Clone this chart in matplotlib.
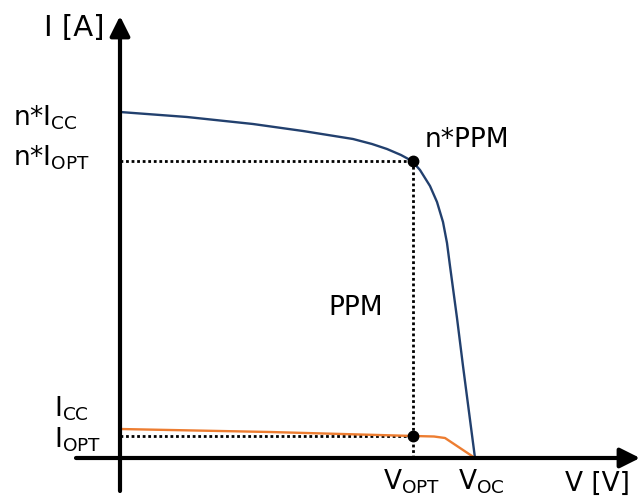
import matplotlib
matplotlib.use("Agg")
import matplotlib.pyplot as plt

plt.rcParams['font.family'] = ['DejaVu Sans']
plt.rcParams['mathtext.fontset'] = 'dejavusans'

# I-V curves (arbitrary units, origin at the axes crossing)
v_array = [0, 67, 133, 183, 233, 252, 267, 281, 292, 300, 310, 317, 323, 327, 330, 337, 343, 355]
i_array = [346, 341, 334, 327, 319, 314, 309, 303, 297, 288, 272, 256, 236, 215, 192, 140, 92, 0]

v_cell = [0, 150, 294, 314, 325, 355]
i_cell = [29, 26, 22, 21.5, 20, 0]

v_opt = 293
i_opt_array = 297
i_opt_cell = 22

blue = '#22406e'
orange = '#ed7d31'

fig = plt.figure(figsize=(6.41, 5.02), dpi=100)
ax = fig.add_axes([0, 0, 1, 1])
ax.set_xlim(-120, 521)
ax.set_ylim(-43, 459)
ax.axis('off')

# axes with arrows
arrow = dict(arrowstyle='-|>', lw=3, color='black', mutation_scale=30, shrinkA=0, shrinkB=0)
ax.annotate('', xy=(520, 0), xytext=(-44, 0), arrowprops=arrow)
ax.annotate('', xy=(0, 442), xytext=(0, -33), arrowprops=arrow)

# dotted guides
dot = dict(color='black', lw=2, linestyle=(0, (1, 1)))
ax.plot([0, v_opt], [i_opt_array, i_opt_array], **dot)
ax.plot([v_opt, v_opt], [0, i_opt_array], **dot)
ax.plot([0, v_opt], [i_opt_cell, i_opt_cell], **dot)

# curves
ax.plot(v_array, i_array, color=blue, lw=1.7, solid_joinstyle='round')
ax.plot(v_cell, i_cell, color=orange, lw=1.7, solid_joinstyle='round')

ax.plot([v_opt, v_opt], [i_opt_array, i_opt_cell], 'o', color='black', ms=7.5)

fs = 19
ax.text(-15, 423, 'I [A]', fontsize=21, ha='right', va='baseline')
ax.text(-107, 334, r'n*I$_{\mathrm{CC}}$', fontsize=fs, va='baseline')
ax.text(-107, 294, r'n*I$_{\mathrm{OPT}}$', fontsize=fs, va='baseline')
ax.text(-66, 42, r'I$_{\mathrm{CC}}$', fontsize=fs, va='baseline')
ax.text(-66, 11, r'I$_{\mathrm{OPT}}$', fontsize=fs, va='baseline')
ax.text(292, -31, r'V$_{\mathrm{OPT}}$', fontsize=fs, ha='center', va='baseline')
ax.text(361, -31, r'V$_{\mathrm{OC}}$', fontsize=fs, ha='center', va='baseline')
ax.text(477, -32, 'V [V]', fontsize=fs, ha='center', va='baseline')
ax.text(236, 144, 'PPM', fontsize=fs, ha='center', va='baseline')
ax.text(347, 312, 'n*PPM', fontsize=fs, ha='center', va='baseline')

fig.savefig('out.png', dpi=100)
